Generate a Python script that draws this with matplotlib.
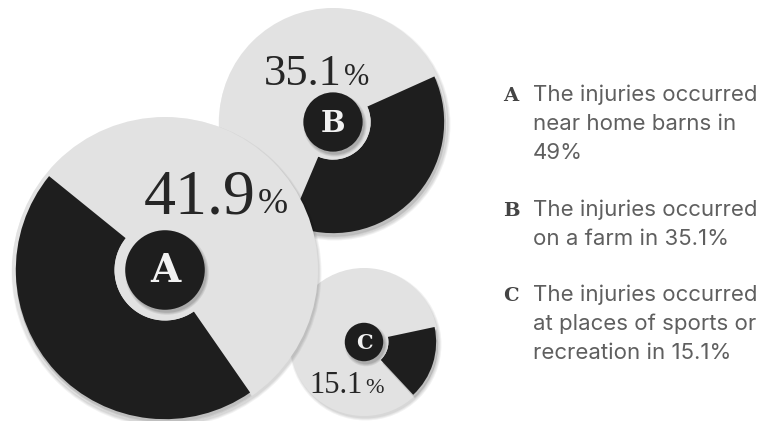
import matplotlib.pyplot as plt
from matplotlib.patches import Circle, Wedge

# --- data ---
labels = ["A", "B", "C"]
values = [41.9, 35.1, 15.1]
legend_lines = [
    ["The injuries occurred", "near home barns in", "49%"],
    ["The injuries occurred", "on a farm in 35.1%"],
    ["The injuries occurred", "at places of sports or", "recreation in 15.1%"],
]

# --- layout (pixel coords, y up) ---
W, H = 766, 421
centers = [(165, 151), (333, 299), (364, 79)]
radii = [153, 114, 74]
start_angles = [141, -113, -47]          # where the dark wedge begins
zbase = [10, 1, 1]                        # A is drawn on top
pct_anchor = [(256, 208), (342, 336), (363, 28)]   # right edge / baseline of number
num_size = [46, 32, 22]
pct_size = [26, 22, 16]
badge_font = [28, 21, 15]
legend_base = [101, 216, 301]
line_gap = 29

LIGHT = "#e2e2e2"
DARK = "#1e1e1e"

total = sum(values)

fig = plt.figure(figsize=(W / 100, H / 100), dpi=100)
ax = fig.add_axes([0, 0, 1, 1])
ax.set_xlim(0, W)
ax.set_ylim(0, H)
ax.set_aspect("equal")
ax.axis("off")

for i, lab in enumerate(labels):
    cx, cy = centers[i]
    r = radii[i]
    z = zbase[i]
    # soft shadow
    for k, a in enumerate([0.05, 0.05, 0.06]):
        ax.add_patch(Circle((cx + 1.5, cy - 2.5), r + 2 - k, color="black", alpha=a, lw=0, zorder=z))
    ax.add_patch(Circle((cx, cy), r, color=LIGHT, lw=0, zorder=z + 1))

    # dark wedge sized by share of the total
    span = values[i] / total * 360
    t1 = start_angles[i]
    r_out = r * 0.975
    r_in = r * 0.33
    for k, a in enumerate([0.08, 0.08]):
        ax.add_patch(Wedge((cx + 1, cy - 2 - k), r_out + 1, t1, t1 + span, width=r_out - r_in,
                           color="black", alpha=a, lw=0, zorder=z + 2))
    ax.add_patch(Wedge((cx, cy), r_out, t1, t1 + span, width=r_out - r_in,
                       color=DARK, lw=0, zorder=z + 3))
    ax.add_patch(Circle((cx, cy), r_in, color=LIGHT, lw=0, zorder=z + 4))

    # badge
    rb = r * 0.26
    for k, a in enumerate([0.08, 0.08, 0.1]):
        ax.add_patch(Circle((cx + 2, cy - 3), rb + 2 - k, color="black", alpha=a, lw=0, zorder=z + 5))
    ax.add_patch(Circle((cx, cy), rb, color=DARK, lw=0, zorder=z + 6))
    ax.text(cx, cy - 1, lab, ha="center", va="center", color="#f2f2f2",
            fontsize=badge_font[i], fontfamily="DejaVu Serif", fontweight="bold", zorder=z + 7)

    # percentage label
    px, py = pct_anchor[i]
    ax.text(px, py, f"{values[i]:.1f}", ha="right", va="baseline", color="#262626",
            fontsize=num_size[i], fontfamily="Liberation Serif", zorder=z + 7)
    ax.text(px + 2, py, "%", ha="left", va="baseline", color="#262626",
            fontsize=pct_size[i], fontfamily="Liberation Serif", zorder=z + 7)

# --- legend ---
for i, lab in enumerate(labels):
    y0 = H - legend_base[i]
    ax.text(503, y0, lab, ha="left", va="baseline", color="#444444",
            fontsize=14, fontfamily="DejaVu Serif", fontweight="bold")
    for j, line in enumerate(legend_lines[i]):
        ax.text(533, y0 - j * line_gap, line, ha="left", va="baseline", color="#5f5f5f",
                fontsize=16, fontfamily="Inter")

fig.savefig("out.png", dpi=100, facecolor="white")
